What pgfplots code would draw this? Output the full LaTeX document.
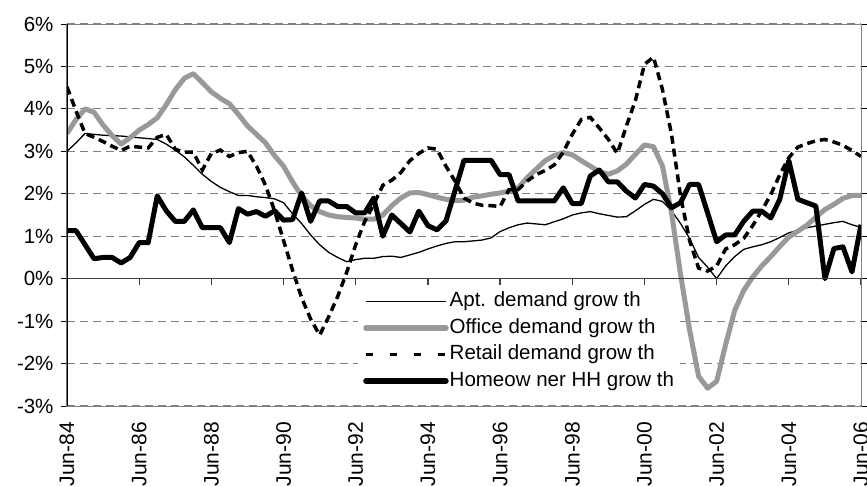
\documentclass[border=0pt]{standalone}
\usepackage{fontspec}
\setmainfont{Liberation Sans}
\usepackage{pgfplots}
\pgfplotsset{compat=1.18}
\usepackage{pgfplotstable}
\definecolor{officegray}{RGB}{153,153,153}
\definecolor{gridgray}{RGB}{128,128,128}

% quarterly, q=0 is Jun-84, q=88 is Jun-06 (values in %)
\pgfplotstableread{
q apt office retail home
0 3.00 3.42 4.52 1.13
1 3.20 3.75 3.95 1.13
2 3.42 4.00 3.42 0.80
3 3.40 3.92 3.33 0.47
4 3.38 3.62 3.23 0.50
5 3.37 3.37 3.12 0.50
6 3.36 3.17 3.02 0.37
7 3.34 3.32 3.12 0.50
8 3.32 3.50 3.10 0.85
9 3.30 3.63 3.08 0.85
10 3.28 3.79 3.33 1.95
11 3.17 4.10 3.40 1.60
12 3.03 4.45 3.05 1.35
13 2.87 4.72 2.98 1.35
14 2.67 4.83 2.98 1.62
15 2.46 4.62 2.56 1.20
16 2.29 4.40 2.95 1.20
17 2.15 4.25 3.03 1.20
18 2.05 4.12 2.88 0.85
19 1.96 3.87 2.97 1.65
20 1.96 3.60 3.00 1.52
21 1.93 3.40 2.65 1.58
22 1.91 3.20 2.20 1.47
23 1.88 2.90 1.60 1.60
24 1.79 2.65 0.90 1.38
25 1.53 2.28 0.20 1.39
26 1.30 1.95 -0.45 2.02
27 1.03 1.72 -0.95 1.35
28 0.80 1.58 -1.33 1.83
29 0.62 1.50 -0.90 1.83
30 0.50 1.46 -0.42 1.70
31 0.40 1.44 0.15 1.70
32 0.45 1.43 0.80 1.55
33 0.48 1.40 1.35 1.55
34 0.48 1.40 1.75 1.90
35 0.52 1.50 2.20 1.00
36 0.53 1.72 2.32 1.50
37 0.50 1.90 2.50 1.30
38 0.56 2.02 2.78 1.10
39 0.62 2.03 2.95 1.59
40 0.70 1.98 3.08 1.25
41 0.77 1.92 3.05 1.15
42 0.83 1.87 2.65 1.36
43 0.87 1.84 2.30 2.07
44 0.87 1.85 1.90 2.79
45 0.89 1.92 1.78 2.79
46 0.91 1.95 1.73 2.79
47 0.96 1.99 1.72 2.79
48 1.11 2.02 1.70 2.45
49 1.20 2.06 2.10 2.45
50 1.27 2.14 2.10 1.83
51 1.31 2.38 2.30 1.83
52 1.29 2.58 2.45 1.83
53 1.27 2.78 2.55 1.83
54 1.34 2.90 2.68 1.83
55 1.41 2.97 2.98 2.14
56 1.50 2.92 3.40 1.77
57 1.55 2.78 3.75 1.77
58 1.58 2.65 3.80 2.42
59 1.53 2.52 3.55 2.56
60 1.49 2.46 3.28 2.28
61 1.45 2.54 2.95 2.28
62 1.46 2.70 3.60 2.06
63 1.60 2.93 4.20 1.90
64 1.75 3.15 5.05 2.22
65 1.87 3.11 5.22 2.18
66 1.82 2.65 4.45 2.00
67 1.60 1.55 3.40 1.67
68 1.30 0.10 1.95 1.79
69 0.95 -1.20 0.90 2.22
70 0.50 -2.30 0.25 2.22
71 0.27 -2.58 0.18 1.55
72 0.00 -2.42 0.30 0.87
73 0.30 -1.55 0.70 1.03
74 0.52 -0.75 0.80 1.03
75 0.69 -0.28 0.95 1.35
76 0.75 0.04 1.25 1.59
77 0.80 0.30 1.60 1.59
78 0.87 0.52 1.98 1.43
79 0.97 0.76 2.45 1.87
80 1.08 0.98 2.85 2.78
81 1.14 1.12 3.10 1.87
82 1.20 1.26 3.18 1.79
83 1.24 1.45 3.25 1.71
84 1.28 1.63 3.28 0.00
85 1.32 1.75 3.22 0.71
86 1.35 1.89 3.14 0.75
87 1.27 1.96 3.02 0.16
88 1.21 1.96 2.88 1.27
}\demand

\begin{document}
\begin{tikzpicture}
\begin{axis}[
    at={(0,0)}, anchor=south west,
    scale only axis,
    width=794bp, height=382bp,
    xmin=0, xmax=88,
    ymin=-3, ymax=6,
    xtick={0,8,...,88},
    xticklabels={Jun-84,Jun-86,Jun-88,Jun-90,Jun-92,Jun-94,Jun-96,Jun-98,Jun-00,Jun-02,Jun-04,Jun-06},
    x tick style={draw=none},
    ytick={-3,-2,...,6},
    yticklabels={-3\%,-2\%,-1\%,0\%,1\%,2\%,3\%,4\%,5\%,6\%},
    y tick style={black, line width=1bp},
    y tick label style={xshift=-4bp},
    tick align=outside,
    major tick length=6bp,
    ymajorgrids=true,
    grid style={gridgray, line width=1.2bp, dash pattern=on 8bp off 5bp},
    axis line style={draw=gridgray, line width=1bp},
    tick label style={font=\fontsize{20.5bp}{24bp}\selectfont},
    x tick label style={rotate=90, anchor=east, inner sep=0pt, xshift=-10bp,
        font=\fontsize{21bp}{25bp}\selectfont},
    legend cell align=left,
    legend image code/.code={\draw[#1] (0bp,0bp) -- (80bp,0bp);},
    legend style={draw=none, fill=white, at={(0.3665,0.3168)}, anchor=north west,
        inner xsep=5bp, inner ysep=5.5bp, row sep=5bp,
        font=\fontsize{20.5bp}{24bp}\selectfont,
        nodes={inner sep=1bp, text height=15bp, text depth=4.5bp}},
]
\addplot[black, line width=1.3bp, line join=round, forget plot] table[x=q, y=apt] {\demand};
\addplot[officegray, line width=5bp, line join=round, forget plot] table[x=q, y=office] {\demand};
\addplot[black, line width=3.5bp, dash pattern=on 8bp off 5bp, forget plot] table[x=q, y=retail] {\demand};
\addplot[black, line width=5bp, line join=round, forget plot] table[x=q, y=home] {\demand};

\draw[black!75, line width=1.2bp] (axis cs:0,0) -- (axis cs:88,0);
\pgfplotsinvokeforeach{0,8,...,88}{%
  \draw[black!75, line width=1.2bp] (axis cs:#1,0) -- ([yshift=-6bp]axis cs:#1,0);}
\draw[black, line width=1.6bp] (rel axis cs:0,0) -- (rel axis cs:0,1);

\addlegendimage{black, line width=1.3bp}
\addlegendentry{Apt. demand grow th}
\addlegendimage{officegray, line width=5.5bp, line cap=round}
\addlegendentry{Office demand grow th}
\addlegendimage{black, line width=3.5bp, dash pattern=on 7bp off 17bp}
\addlegendentry{Retail demand grow th}
\addlegendimage{black, line width=5.5bp, line cap=round}
\addlegendentry{Homeow ner HH grow th}
\end{axis}
\pgfresetboundingbox
\useasboundingbox (-67bp,-81bp) rectangle (800bp,406bp);
\end{tikzpicture}
\end{document}
